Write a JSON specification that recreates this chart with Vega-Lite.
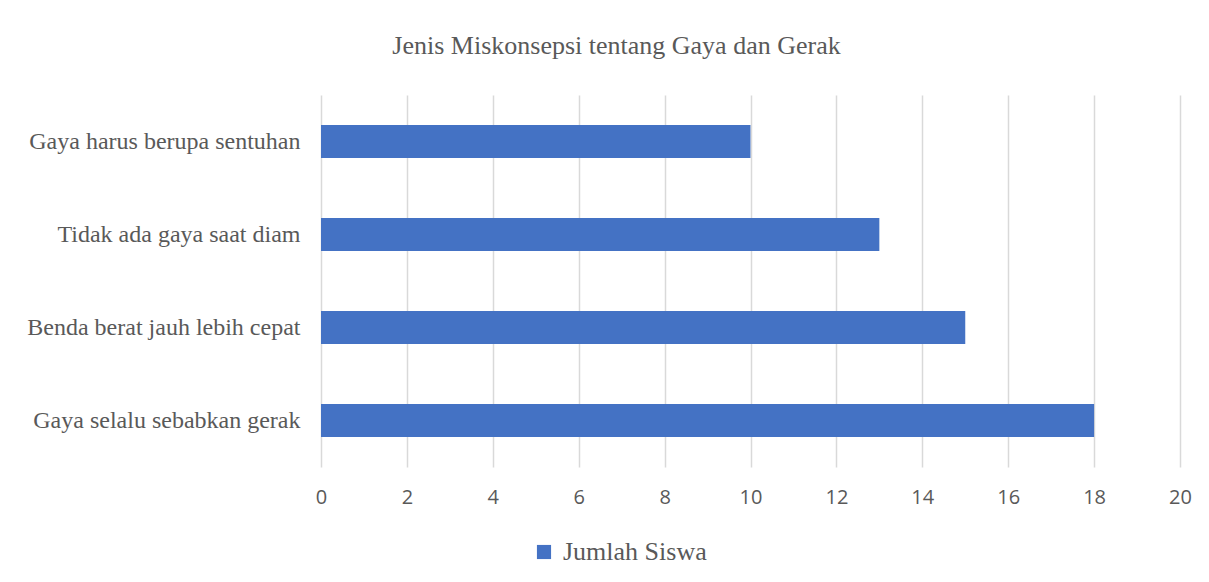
{
  "$schema": "https://vega.github.io/schema/vega-lite/v6.json",
  "autosize": {"type": "none"},
  "padding": {"left": 321, "top": 95, "right": 29, "bottom": 115},
  "width": 859,
  "height": 372,
  "background": "white",
  "title": {
    "text": "Jenis Miskonsepsi tentang Gaya dan Gerak",
    "font": "Liberation Serif",
    "fontSize": 26,
    "fontWeight": "normal",
    "color": "#595959",
    "anchor": "middle",
    "dx": -134,
    "offset": 36
  },
  "data": {
    "values": [
      {"kategori": "Gaya harus berupa sentuhan", "jumlah": 10, "seri": "Jumlah Siswa"},
      {"kategori": "Tidak ada gaya saat diam", "jumlah": 13, "seri": "Jumlah Siswa"},
      {"kategori": "Benda berat jauh lebih cepat", "jumlah": 15, "seri": "Jumlah Siswa"},
      {"kategori": "Gaya selalu sebabkan gerak", "jumlah": 18, "seri": "Jumlah Siswa"}
    ]
  },
  "mark": {"type": "bar"},
  "encoding": {
    "y": {
      "field": "kategori",
      "type": "nominal",
      "sort": null,
      "scale": {"paddingInner": 0.645, "paddingOuter": 0.3225},
      "axis": {
        "title": null,
        "domain": false,
        "ticks": false,
        "labelFont": "Liberation Serif",
        "labelFontSize": 24,
        "labelColor": "#595959",
        "labelPadding": 21,
        "labelLimit": 400
      }
    },
    "x": {
      "field": "jumlah",
      "type": "quantitative",
      "scale": {"domain": [0, 20], "nice": false},
      "axis": {
        "title": null,
        "values": [0, 2, 4, 6, 8, 10, 12, 14, 16, 18, 20],
        "domain": false,
        "ticks": false,
        "grid": true,
        "gridColor": "#d9d9d9",
        "gridWidth": 1.5,
        "labelFont": "Open Sans",
        "labelFontSize": 20,
        "labelColor": "#595959",
        "labelPadding": 20,
        "labelFlush": false
      }
    },
    "color": {
      "field": "seri",
      "type": "nominal",
      "scale": {"range": ["#4472c4"]},
      "legend": {
        "title": null,
        "orient": "none",
        "legendX": 210,
        "legendY": 444,
        "symbolType": "square",
        "symbolSize": 200,
        "symbolStrokeWidth": 0,
        "labelFont": "Liberation Serif",
        "labelFontSize": 26,
        "labelColor": "#595959",
        "labelOffset": 6
      }
    }
  },
  "config": {
    "view": {"stroke": null}
  }
}
